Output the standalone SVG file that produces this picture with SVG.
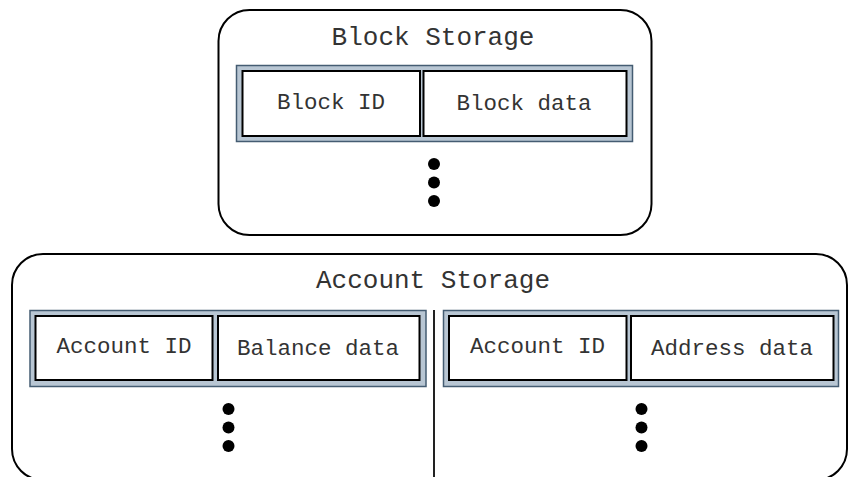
<svg xmlns="http://www.w3.org/2000/svg" width="848" height="477" viewBox="0 0 848 477">
  <style>
    .store { fill: #ffffff; stroke: #000000; stroke-width: 2; }
    .band { fill: #b8c6d3; stroke: #445c72; stroke-width: 1.5; }
    .field { fill: #ffffff; stroke: #000000; stroke-width: 2; }
    .title { font-family: "Courier New", "Liberation Mono", monospace; font-size: 26px; fill: #333333; text-anchor: middle; }
    .label { font-family: "Courier New", "Liberation Mono", monospace; font-size: 22.5px; fill: #333333; text-anchor: middle; }
    .dot { fill: #000000; }
  </style>
  <defs>
    <g id="ellipsis">
      <circle class="dot" cx="0" cy="0" r="6"/>
      <circle class="dot" cx="0" cy="18.5" r="6"/>
      <circle class="dot" cx="0" cy="37" r="6"/>
    </g>
  </defs>

  <!-- Block storage container -->
  <g id="block-storage">
    <rect class="store" x="218.5" y="10" width="433" height="225" rx="31" ry="31"/>
    <text class="title" x="433" y="45">Block Storage</text>
    <g id="block-record">
      <rect class="band" x="236.5" y="65.5" width="396" height="76"/>
      <g id="block-id">
        <rect class="field" x="242.5" y="71" width="177.5" height="65"/>
        <text class="label" x="331" y="109">Block ID</text>
      </g>
      <g id="block-data">
        <rect class="field" x="423.5" y="71" width="203" height="65"/>
        <text class="label" x="524" y="110">Block data</text>
      </g>
    </g>
    <use href="#ellipsis" x="434" y="164"/>
  </g>

  <!-- Account storage container (bottom edge runs past the canvas) -->
  <g id="account-storage">
    <rect class="store" x="12" y="254" width="835" height="226" rx="31" ry="31"/>
    <text class="title" x="433" y="288">Account Storage</text>

    <g id="balance-record">
      <rect class="band" x="30" y="310.5" width="396" height="76"/>
      <g id="balance-account-id">
        <rect class="field" x="35.5" y="316" width="177" height="64"/>
        <text class="label" x="124" y="353">Account ID</text>
      </g>
      <g id="balance-data">
        <rect class="field" x="218" y="316" width="201.5" height="64"/>
        <text class="label" x="318" y="355">Balance data</text>
      </g>
    </g>
    <use href="#ellipsis" x="228.5" y="409"/>

    <g id="address-record">
      <rect class="band" x="443.5" y="310.5" width="395" height="76"/>
      <g id="address-account-id">
        <rect class="field" x="449" y="316" width="177.5" height="64"/>
        <text class="label" x="537.5" y="353">Account ID</text>
      </g>
      <g id="address-data">
        <rect class="field" x="631" y="316" width="202.5" height="64"/>
        <text class="label" x="732" y="355">Address data</text>
      </g>
    </g>
    <use href="#ellipsis" x="641.5" y="409"/>
  </g>

  <!-- Divider between the two account stores -->
  <g id="connectors">
    <line x1="434" y1="310" x2="434" y2="478" stroke="#222222" stroke-width="2"/>
  </g>
</svg>
